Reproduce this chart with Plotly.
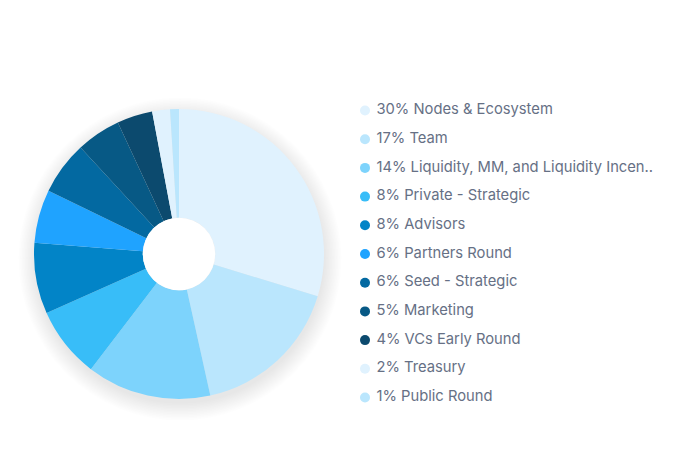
import plotly.graph_objects as go

labels = ["Nodes & Ecosystem", "Team", "Liquidity, MM, and Liquidity Incen..",
          "Private - Strategic", "Advisors", "Partners Round", "Seed - Strategic",
          "Marketing", "VCs Early Round", "Treasury", "Public Round"]
values = [30, 17, 14, 8, 8, 6, 6, 5, 4, 2, 1]
colors = ["#e0f2fe", "#bae6fd", "#7dd3fc", "#38bdf8", "#0284c7", "#1fa3ff",
          "#0369a1", "#075985", "#0c4a6e", "#e0f2fe", "#bae6fd"]
legend_text = [f" {v}% {lab}" for v, lab in zip(values, labels)]

W, H = 697, 470
cx, cy, r = 179, 254, 145
hole = 0.25

fig = go.Figure()

# soft shadow behind the pie
for i in range(12):
    rr = r + i * 1.5
    off = 5
    fig.add_shape(type="circle", xref="paper", yref="paper", layer="below",
                  x0=(cx + 1 - rr) / W, x1=(cx + 1 + rr) / W,
                  y0=(H - (cy + off + rr)) / H, y1=(H - (cy + off - rr)) / H,
                  fillcolor="rgba(0,0,0,0.008)", line=dict(width=0))

fig.add_trace(go.Pie(
    labels=labels, values=values, hole=hole, sort=False, direction="clockwise",
    rotation=0, marker=dict(colors=colors, line=dict(width=0)),
    textinfo="none", hoverinfo="label+percent", showlegend=False,
    domain=dict(x=[(cx - r) / W, (cx + r) / W], y=[(H - cy - r) / H, (H - cy + r) / H]),
))

# white centre over the shadow
hr = r * hole
fig.add_shape(type="circle", xref="paper", yref="paper", layer="above",
              x0=(cx - hr) / W, x1=(cx + hr) / W,
              y0=(H - (cy + hr)) / H, y1=(H - (cy - hr)) / H,
              fillcolor="white", line=dict(width=0))

# legend drawn as a marker+text scatter
idx = list(range(len(labels)))
fig.add_trace(go.Scatter(
    x=[0] * len(labels), y=idx, mode="markers+text", text=legend_text,
    textposition="middle right", cliponaxis=False, hoverinfo="skip",
    marker=dict(symbol="circle", size=10, color=colors),
    textfont=dict(family="Inter", size=14.75, color="#667085"),
    showlegend=False,
))

top, step = 110.5, 28.7
y_top = top - step / 2
y_bot = top + step * 10 + step / 2
fig.update_layout(
    width=W, height=H, margin=dict(l=0, r=0, t=0, b=0),
    paper_bgcolor="white", plot_bgcolor="rgba(0,0,0,0)",
    xaxis=dict(visible=False, range=[0, 1], domain=[365 / W, 1], fixedrange=True),
    yaxis=dict(visible=False, range=[10.5, -0.5], domain=[1 - y_bot / H, 1 - y_top / H],
               fixedrange=True),
    font=dict(family="Inter", size=14, color="#667085"),
    showlegend=False,
)

fig.write_html("out.html", config={"displayModeBar": False},
               post_script="document.body.style.margin='0';")
